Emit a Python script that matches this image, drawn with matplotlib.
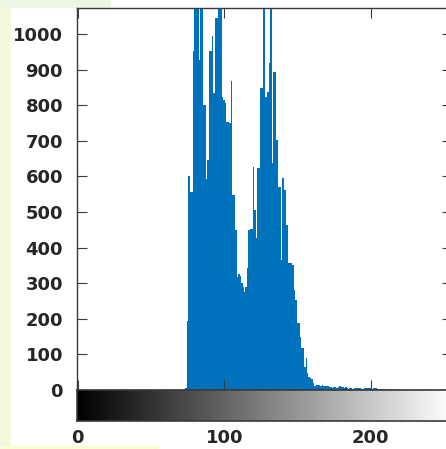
import numpy as np
import matplotlib
matplotlib.use("Agg")
from matplotlib import pyplot as plt
from matplotlib.patches import Rectangle

# histogram counts, gray levels 73..221 (everything else is zero)
first_level = 73
counts_nonzero = [
    3, 5, 194, 602, 555, 555, 953, 1200, 1200, 1150,        # 73-82
    926, 1150, 1120, 800, 800, 593, 646, 953, 953, 993,     # 83-92
    833, 1044, 1044, 1150, 1200, 1120, 824, 815, 805, 754,  # 93-102
    754, 750, 868, 548, 548, 449, 318, 326, 320, 300,       # 103-112
    290, 276, 290, 342, 449, 453, 453, 627, 507, 426,       # 113-122
    623, 623, 847, 847, 1150, 824, 824, 838, 918, 1150,     # 123-132
    637, 894, 894, 702, 571, 571, 365, 595, 562, 562,       # 133-142
    463, 356, 356, 356, 351, 281, 253, 188, 188, 149,       # 143-152
    118, 118, 65, 90, 48, 37, 35, 30, 19, 11,               # 153-162
    13, 13, 14, 12, 13, 11, 12, 10, 12, 9,                  # 163-172
    8, 6, 8, 9, 7, 9, 10, 8, 9, 6,                          # 173-182
    8, 5, 4, 6, 5, 4, 6, 7, 5, 7,                           # 183-192
    6, 4, 3, 5, 7, 6, 7, 5, 4, 6,                           # 193-202
    7, 5, 3, 2, 3, 2, 3, 2, 1, 2,                           # 203-212
    1, 2, 1, 2, 1, 0, 1, 4, 1,                              # 213-221
]
levels = np.arange(256)
counts = np.zeros(256)
counts[first_level:first_level + len(counts_nonzero)] = counts_nonzero

y_ticks = list(range(0, 1001, 100))
x_ticks = [0, 100, 200]

W, H = 446, 449
fig = plt.figure(figsize=(W / 100, H / 100), dpi=100)
fig.patch.set_facecolor('white')

# slide background strips around the pasted figure
fig.patches.append(Rectangle((0, 0), 10 / W, 1, transform=fig.transFigure,
                             color='#f4f9dc', zorder=-10))
fig.patches.append(Rectangle((0, 1 - 7 / H), 110 / W, 7 / H, transform=fig.transFigure,
                             color='#eef6e2', zorder=-10))
fig.patches.append(Rectangle((0, 0), 158 / W, 3 / H, transform=fig.transFigure,
                             color='#fdfdd3', zorder=-10))

left = 77 / W
width = (452 - 77) / W
ax = fig.add_axes([left, 1 - 390 / H, width, (390 - 8) / H])
cax = fig.add_axes([left, 1 - 421 / H, width, (421 - 390) / H])

txt_col = '#262626'
spine_col = '#3a3a3a'

ax.bar(levels, counts, width=1.0, color='#0072BD', linewidth=0)
ax.set_xlim(-0.5, 255.5)
ax.set_ylim(0, 1073)
ax.set_yticks(y_ticks)
ax.set_xticks(x_ticks)
ax.tick_params(axis='both', direction='in', length=7, width=0.8, color=spine_col,
               top=True, right=True, labelbottom=False)
ax.tick_params(axis='y', pad=10, labelcolor=txt_col, labelsize=13)
for lab in ax.get_yticklabels():
    lab.set_fontweight('bold')
for s in ax.spines.values():
    s.set_color(spine_col)
    s.set_linewidth(1.0)

# gray colorbar under the histogram
grad = np.linspace(0, 1, 256).reshape(1, -1)
cax.imshow(grad, cmap='gray', aspect='auto', extent=[-0.5, 255.5, 0, 1])
cax.set_xlim(-0.5, 255.5)
cax.set_yticks([])
cax.set_xticks(x_ticks)
cax.tick_params(axis='x', length=0, pad=6, labelcolor=txt_col, labelsize=13)
for lab in cax.get_xticklabels():
    lab.set_fontweight('bold')
for s in cax.spines.values():
    s.set_color(spine_col)
    s.set_linewidth(1.2)

fig.savefig('out.png', dpi=100)
